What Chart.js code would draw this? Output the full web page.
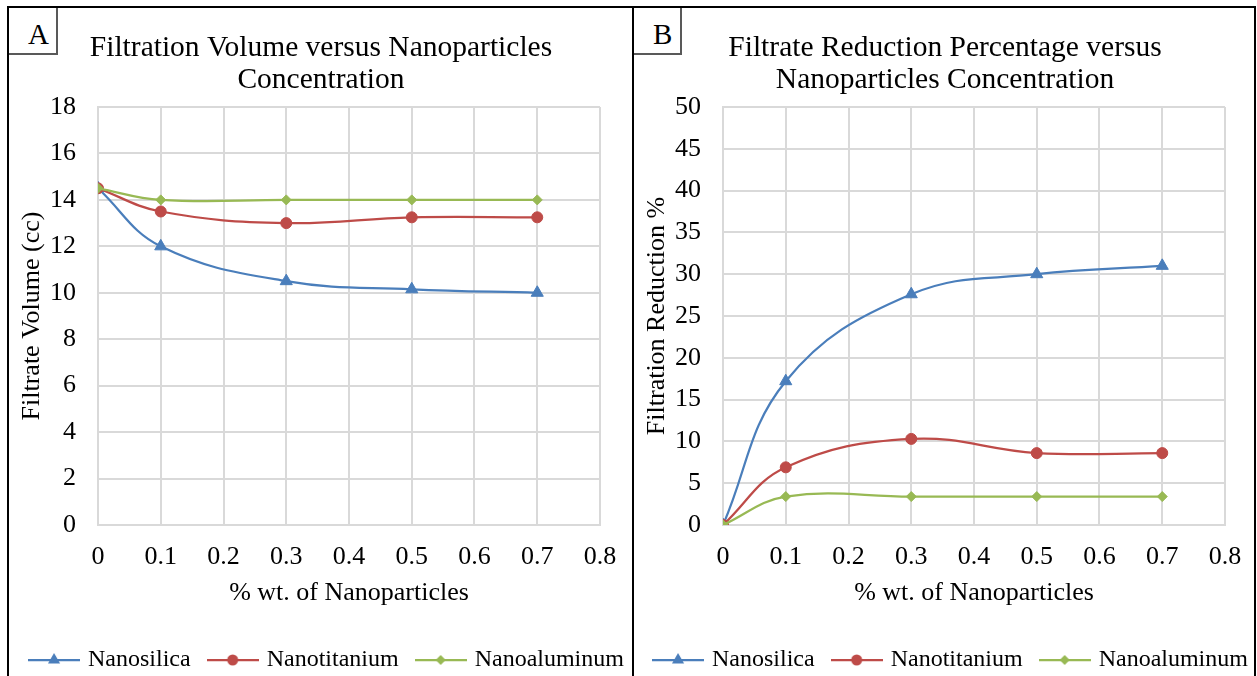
<!DOCTYPE html>
<html>
<head>
<meta charset="utf-8">
<title>Filtration charts</title>
<script src="https://cdn.jsdelivr.net/npm/chart.js@4.4.1/dist/chart.umd.min.js"></script>
<style>
  html, body { margin:0; padding:0; background:#fff; width:1257px; height:676px; overflow:hidden; position:relative; }
  canvas { position:absolute; top:8px; }
  #chartA { left:-11px; width:664px; height:676px; }
  #chartB { left:614px; width:662px; height:676px; }
  .rule { position:absolute; background:#000; z-index:5; }
  .tag { position:absolute; top:8px; background:#fff; border-right:2px solid #595959; border-bottom:2px solid #595959; z-index:4; }
  .tag span { position:absolute; top:12px; font-family:"Liberation Serif",serif; font-size:29px; line-height:29px; color:#000; }
</style>
</head>
<body>
<canvas id="chartA" width="664" height="676"></canvas>
<canvas id="chartB" width="662" height="676"></canvas>
<div class="rule" style="left:7px;top:6px;width:1249px;height:2px"></div>
<div class="rule" style="left:7px;top:6px;width:2px;height:670px"></div>
<div class="rule" style="left:632px;top:6px;width:2px;height:670px"></div>
<div class="rule" style="left:1254px;top:6px;width:2px;height:670px"></div>
<div class="tag" style="left:9px;width:47px;height:45px"><span style="left:19px">A</span></div>
<div class="tag" style="left:634px;width:46px;height:45px"><span style="left:19px">B</span></div>
<script>
// ---- data ----
const xPositions = [0, 0.1, 0.3, 0.5, 0.7];
const xTickValues = [0, 0.1, 0.2, 0.3, 0.4, 0.5, 0.6, 0.7, 0.8];
const seriesNames = ['Nanosilica', 'Nanotitanium', 'Nanoaluminum'];
const volSilica = [14.5, 12.0, 10.5, 10.15, 10.0];
const volTitanium = [14.5, 13.5, 13.0, 13.25, 13.25];
const volAluminum = [14.5, 14.0, 14.0, 14.0, 14.0];
const redSilica = [0, 17.2, 27.6, 30.0, 31.0];
const redTitanium = [0, 6.9, 10.3, 8.6, 8.6];
const redAluminum = [0, 3.4, 3.4, 3.4, 3.4];
const volYTicks = [0, 2, 4, 6, 8, 10, 12, 14, 16, 18];
const redYTicks = [0, 5, 10, 15, 20, 25, 30, 35, 40, 45, 50];

// ---- styles ----
const COLORS = ['#4a7ebb', '#be4b48', '#98b954'];
const STYLES = ['triangle', 'circle', 'rectRot'];
const RADII = [7, 5.5, 5];
const GRID = '#d9d9d9';
const FONT = '"Liberation Serif", "Times New Roman", serif';
Chart.defaults.font.family = FONT;
Chart.defaults.color = '#000';

function legendImage(i) {
  const c = document.createElement('canvas');
  c.width = 52; c.height = 16;
  const g = c.getContext('2d');
  g.strokeStyle = COLORS[i]; g.fillStyle = COLORS[i]; g.lineWidth = 2.25;
  g.beginPath(); g.moveTo(0, 8); g.lineTo(52, 8); g.stroke();
  const cx = 26, cy = 8, r = RADII[i];
  g.beginPath();
  if (STYLES[i] === 'triangle') {
    for (let k = 0; k < 3; k++) {
      const a = k * 2 * Math.PI / 3;
      const px = cx + Math.sin(a) * r, py = cy - Math.cos(a) * r;
      if (k === 0) g.moveTo(px, py); else g.lineTo(px, py);
    }
    g.closePath();
  } else if (STYLES[i] === 'circle') {
    g.arc(cx, cy, r, 0, Math.PI * 2);
  } else {
    g.moveTo(cx - r, cy); g.lineTo(cx, cy - r); g.lineTo(cx + r, cy); g.lineTo(cx, cy + r); g.closePath();
  }
  g.fill();
  return c;
}
const legendImages = [0, 1, 2].map(legendImage);

const legendShift = {
  id: 'legendShift',
  afterLayout(chart) {
    if (chart.legend) { chart.legend.left += 7; chart.legend.right += 7; }
  }
};

function buildChart(id, o) {
  const datasets = o.series.map((vals, i) => ({
    label: seriesNames[i],
    data: vals.map((v, j) => ({ x: xPositions[j], y: v })),
    borderColor: COLORS[i],
    backgroundColor: COLORS[i],
    borderWidth: 2.25,
    pointStyle: STYLES[i],
    pointRadius: RADII[i],
    pointBorderWidth: 1,
    pointBorderColor: COLORS[i],
    pointBackgroundColor: COLORS[i],
    tension: 0.4,
    fill: false,
    order: 3 - i
  }));
  return new Chart(document.getElementById(id), {
    type: 'line',
    data: { datasets },
    plugins: [legendShift],
    options: {
      responsive: false,
      animation: false,
      events: [],
      layout: { padding: { left: 0, right: 0, top: 0, bottom: 2 } },
      plugins: {
        title: {
          display: true, text: o.title, color: '#000',
          font: { size: 29.5, weight: 'normal', lineHeight: 32 / 29.5 },
          padding: { top: 24, bottom: 11 }
        },
        legend: {
          position: 'bottom',
          labels: {
            usePointStyle: true, pointStyleWidth: 44, padding: 20,
            font: { size: 24 }, color: '#000',
            sort: (a, b) => a.datasetIndex - b.datasetIndex,
            generateLabels(chart) {
              const items = Chart.defaults.plugins.legend.labels.generateLabels(chart);
              items.forEach(it => { it.pointStyle = legendImages[it.datasetIndex]; });
              return items;
            }
          }
        },
        tooltip: { enabled: false }
      },
      scales: {
        x: {
          type: 'linear', min: 0, max: 0.8,
          afterBuildTicks: s => { s.ticks = xTickValues.map(v => ({ value: v })); },
          afterFit: s => { s.height = 103; s.paddingRight = o.rightGap; },
          ticks: { padding: 17, font: { size: 26 }, color: '#000', callback: v => String(Number(Number(v).toFixed(1))) },
          grid: { color: GRID, lineWidth: 2, drawTicks: false },
          border: { color: GRID, width: 2 },
          title: { display: true, text: '% wt. of Nanoparticles', color: '#000', font: { size: 26 }, padding: { top: 0, bottom: 19 } }
        },
        y: {
          min: 0, max: o.yMax,
          afterBuildTicks: s => { s.ticks = o.yTicks.map(v => ({ value: v })); },
          afterFit: s => { s.width = o.yWidth; },
          ticks: { padding: 22, font: { size: 26 }, color: '#000' },
          grid: { color: GRID, lineWidth: 2, drawTicks: false },
          border: { color: GRID, width: 2 },
          title: { display: true, text: o.yTitle, color: '#000', font: { size: 26 }, padding: { top: 28, bottom: 0 } }
        }
      }
    }
  });
}

buildChart('chartA', {
  title: ['Filtration Volume versus Nanoparticles', 'Concentration'],
  yTitle: 'Filtrate Volume (cc)',
  series: [volSilica, volTitanium, volAluminum],
  yMax: 18, yTicks: volYTicks, yWidth: 109, rightGap: 53
});
buildChart('chartB', {
  title: ['Filtrate Reduction Percentage versus', 'Nanoparticles Concentration'],
  yTitle: 'Filtration Reduction %',
  series: [redSilica, redTitanium, redAluminum],
  yMax: 50, yTicks: redYTicks, yWidth: 109, rightGap: 51
});
</script>
</body>
</html>
